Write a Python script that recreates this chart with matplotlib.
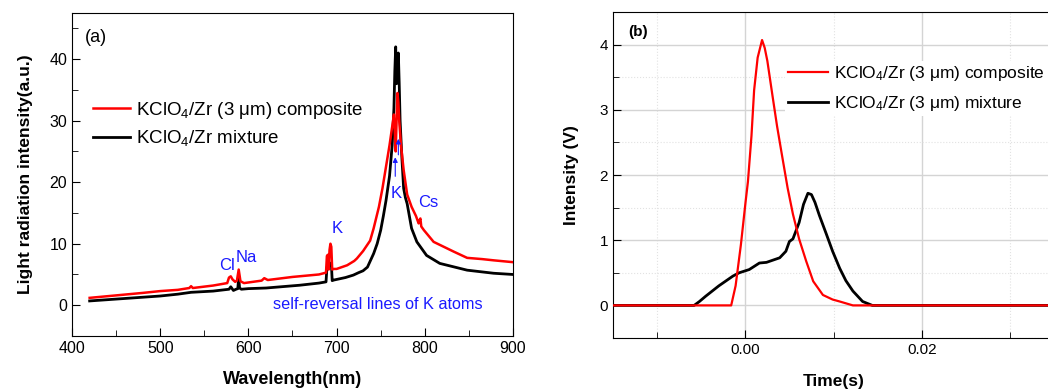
import matplotlib
matplotlib.use("Agg")
import matplotlib.pyplot as plt
from matplotlib.ticker import MultipleLocator, FixedLocator, FormatStrFormatter

plt.rcParams['font.family'] = ['Liberation Sans', 'DejaVu Sans']
plt.rcParams['mathtext.fontset'] = 'custom'
plt.rcParams['mathtext.rm'] = 'Liberation Sans'
plt.rcParams['mathtext.it'] = 'Liberation Sans:italic'
plt.rcParams['mathtext.bf'] = 'Liberation Sans:bold'

# ---------------- Panel (a): emission spectra ----------------
wl_red = [420, 450, 480, 500, 520, 533, 535, 537, 560, 576, 578, 580, 582, 585, 587,
          589, 591, 595, 600, 615, 618, 622, 650, 680, 688, 689, 690, 691, 692, 693,
          694, 695, 697, 700, 712, 720, 723, 730, 738, 742, 748, 752, 756, 760, 763,
          765, 766, 767, 768, 769, 770, 771, 773, 776, 780, 785, 790, 793, 794, 795,
          796, 799, 810, 833, 848, 865, 878, 900]
red_a = [1.2, 1.6, 2.0, 2.3, 2.5, 2.8, 3.1, 2.8, 3.2, 3.6, 4.5, 4.7, 4.2, 3.8, 4.0,
         5.8, 3.9, 3.6, 3.7, 4.0, 4.4, 4.1, 4.6, 5.0, 5.3, 8.0, 8.2, 5.8, 9.0, 10.0,
         9.5, 5.8, 5.9, 5.9, 6.5, 7.2, 7.6, 8.8, 10.5, 12.5, 16.0, 19.0, 22.5, 26.0, 29.0,
         31.0, 28.0, 25.0, 30.0, 34.5, 33.0, 30.0, 26.0, 22.0, 18.0, 16.0, 14.5, 13.3, 13.8, 14.1,
         12.8, 12.2, 10.3, 8.7, 7.7, 7.5, 7.3, 7.0]

wl_blk = [420, 450, 480, 500, 520, 535, 560, 578, 580, 583, 586, 588, 589, 590, 592,
          600, 620, 658, 680, 688, 689, 690, 692, 693, 694, 695, 697, 710, 719, 725,
          730, 735, 742, 746, 750, 753, 756, 760, 763, 765, 766, 767, 768, 769, 770,
          771, 772, 774, 776, 778, 780, 785, 791, 802, 817, 848, 878, 900]
blk_a = [0.7, 1.0, 1.3, 1.5, 1.8, 2.1, 2.3, 2.6, 3.0, 2.4, 2.6, 2.7, 4.6, 2.8, 2.6,
         2.7, 2.8, 3.25, 3.6, 3.8, 6.0, 6.6, 6.8, 6.5, 6.9, 4.0, 4.1, 4.5, 4.9, 5.3,
         5.6, 6.2, 8.4, 10.0, 12.2, 14.5, 17.0, 21.0, 26.0, 32.0, 38.0, 42.0, 36.0, 39.0, 41.0,
         36.0, 30.0, 24.0, 19.0, 17.5, 16.5, 12.5, 10.3, 8.1, 6.8, 5.7, 5.2, 5.0]

# ---------------- Panel (b): time traces ----------------
t_red = [-0.015, -0.0016, -0.0011, -0.0005, 0.0, 0.0003, 0.0007, 0.0010, 0.0014, 0.0019,
         0.0022, 0.0025, 0.0031, 0.0036, 0.0041, 0.0048, 0.0054, 0.0061, 0.0069, 0.0077,
         0.0088, 0.0099, 0.0107, 0.0122, 0.035]
red_b = [0.0, 0.0, 0.3, 0.93, 1.55, 1.9, 2.6, 3.3, 3.8, 4.07,
         3.95, 3.75, 3.2, 2.75, 2.35, 1.8, 1.4, 1.02, 0.68, 0.37,
         0.16, 0.09, 0.06, 0.0, 0.0]

t_blk = [-0.015, -0.0058, -0.0052, -0.0045, -0.003, -0.0014, -0.0007, 0.00045, 0.0016, 0.0024,
         0.0039, 0.0046, 0.005, 0.0054, 0.0061, 0.0066, 0.0071, 0.0075, 0.0079, 0.0084,
         0.0092, 0.0099, 0.0107, 0.0114, 0.0122, 0.0133, 0.0144, 0.035]
blk_b = [0.0, 0.0, 0.06, 0.14, 0.3, 0.45, 0.5, 0.55, 0.65, 0.66,
         0.73, 0.83, 0.98, 1.02, 1.27, 1.55, 1.72, 1.70, 1.58, 1.38,
         1.09, 0.83, 0.57, 0.38, 0.22, 0.06, 0.0, 0.0]

leg_a = ["KClO$_4$/Zr (3 \u03bcm) composite", "KClO$_4$/Zr mixture"]
leg_b = ["KClO$_4$/Zr (3 \u03bcm) composite", "KClO$_4$/Zr (3 \u03bcm) mixture"]

fig = plt.figure(figsize=(10.48, 3.89), dpi=100)

# ---- (a)
ax1 = fig.add_axes([72/1048, 53/389, 441/1048, 323/389])
ax1.plot(wl_blk, blk_a, color='black', lw=2.0, label=leg_a[1], zorder=2)
ax1.plot(wl_red, red_a, color='red', lw=1.8, label=leg_a[0], zorder=3)
ax1.set_xlim(400, 900)
ax1.set_ylim(-5, 47.5)
ax1.xaxis.set_major_locator(MultipleLocator(100))
ax1.xaxis.set_minor_locator(MultipleLocator(50))
ax1.yaxis.set_major_locator(FixedLocator([0, 10, 20, 30, 40]))
ax1.yaxis.set_minor_locator(FixedLocator([-5, 5, 15, 25, 35, 45]))
ax1.tick_params(which='both', direction='in', top=False, right=False, labelsize=11.5)
ax1.tick_params(which='major', length=6)
ax1.tick_params(which='minor', length=4)
ax1.set_xlabel("Wavelength(nm)", fontsize=13, fontweight='bold', labelpad=11)
ax1.set_ylabel("Light radiation intensity(a.u.)", fontsize=12.5, fontweight='bold', labelpad=12)
h, l = ax1.get_legend_handles_labels()
ax1.legend([h[1], h[0]], [l[1], l[0]], loc='upper left', bbox_to_anchor=(0.03, 0.755),
           frameon=False, fontsize=13.5, handlelength=2.0, handletextpad=0.3,
           labelspacing=0.4, borderaxespad=0)
ax1.text(0.03, 0.923, "(a)", transform=ax1.transAxes, fontsize=13, ha='left', va='center')
blue = '#1a1aff'
ax1.text(576, 6.5, "Cl", color=blue, fontsize=12, ha='center', va='center')
ax1.text(598, 7.8, "Na", color=blue, fontsize=12, ha='center', va='center')
ax1.text(700.5, 12.4, "K", color=blue, fontsize=12, ha='center', va='center')
ax1.text(767, 18.2, "K", color=blue, fontsize=12, ha='center', va='center')
ax1.text(803.5, 16.7, "Cs", color=blue, fontsize=12, ha='center', va='center')
ax1.text(747, 0.2, "self-reversal lines of K atoms", color=blue, fontsize=11.7,
         ha='center', va='center')
ax1.annotate("", xy=(766.5, 24.5), xytext=(766.5, 20.5),
             arrowprops=dict(arrowstyle='-|>', color=blue, lw=0.8, mutation_scale=7))
ax1.annotate("", xy=(770.0, 27.5), xytext=(770.0, 24.0),
             arrowprops=dict(arrowstyle='-|>', color=blue, lw=0.8, mutation_scale=7))

# ---- (b)
ax2 = fig.add_axes([613/1048, 51/389, 441/1048, 326/389])
ax2.plot(t_red, red_b, color='red', lw=1.6, label=leg_b[0], zorder=3)
ax2.plot(t_blk, blk_b, color='black', lw=2.0, label=leg_b[1], zorder=2)
ax2.set_xlim(-0.015, 0.035)
ax2.set_ylim(-0.5, 4.5)
ax2.xaxis.set_major_locator(FixedLocator([0.0, 0.02]))
ax2.xaxis.set_minor_locator(FixedLocator([-0.01, 0.01, 0.03]))
ax2.xaxis.set_major_formatter(FormatStrFormatter('%.2f'))
ax2.yaxis.set_major_locator(FixedLocator([0, 1, 2, 3, 4]))
ax2.yaxis.set_minor_locator(FixedLocator([-0.5, 0.5, 1.5, 2.5, 3.5]))
ax2.tick_params(which='both', direction='in', top=False, right=False, labelsize=11)
ax2.tick_params(which='major', length=6)
ax2.tick_params(which='minor', length=4)
ax2.grid(which='major', color='#d4d4d4', lw=1.0, zorder=0)
ax2.grid(which='minor', color='#e2e2e2', lw=0.8, ls=':', zorder=0)
ax2.set_axisbelow(True)
ax2.spines['right'].set_visible(False)
ax2.set_xlabel("Time(s)", fontsize=12.5, fontweight='bold', labelpad=12)
ax2.set_ylabel("Intensity (V)", fontsize=12.5, fontweight='bold', labelpad=15)
leg = ax2.legend(loc='upper left', bbox_to_anchor=(0.39, 0.85), frameon=True,
                 fontsize=12.5, handlelength=2.3, handletextpad=0.3,
                 labelspacing=0.6, borderaxespad=0, borderpad=0.2)
leg.get_frame().set_edgecolor('none')
leg.get_frame().set_facecolor('white')
leg.get_frame().set_alpha(1.0)
ax2.text(0.035, 0.94, "(b)", transform=ax2.transAxes, fontsize=11, fontweight='bold',
         ha='left', va='center')

fig.savefig("out.png", dpi=100)
